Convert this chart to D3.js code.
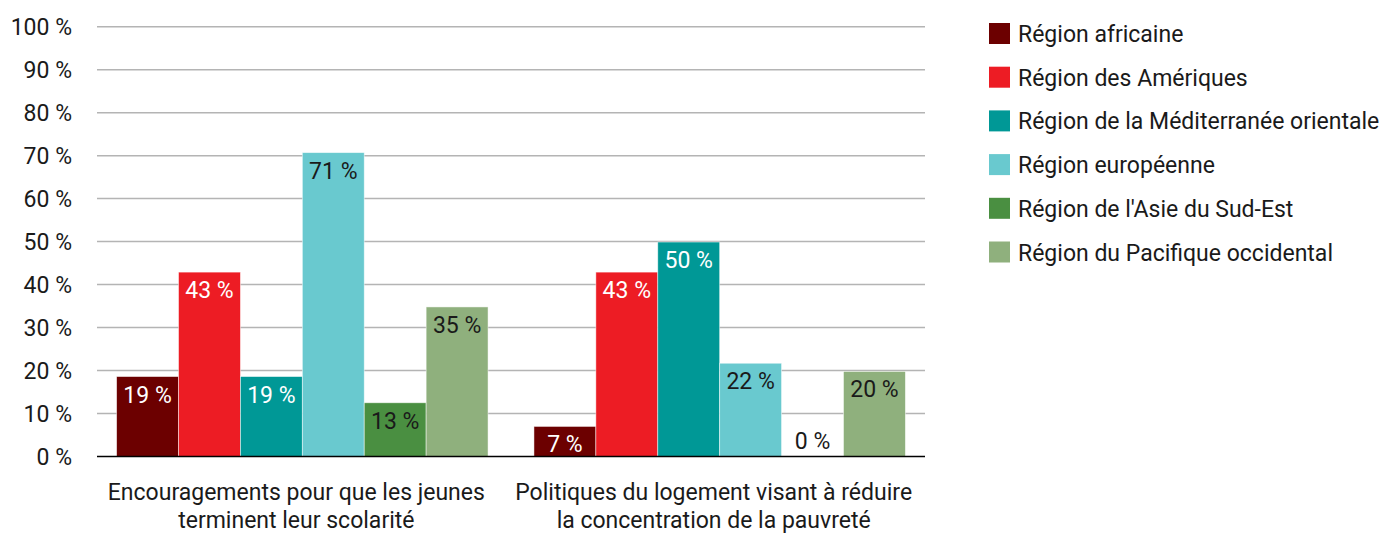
<!DOCTYPE html>
<html>
<head>
<meta charset="utf-8">
<script src="https://cdn.jsdelivr.net/npm/d3@7"></script>
<style>
  body { margin: 0; background: #fff; }
  svg text { font-family: Roboto, "Liberation Sans", sans-serif; fill: #1a1a1a; }
</style>
</head>
<body>
<svg id="chart"></svg>
<script>
// categories (x axis), one label per line
const categories = [
  ['Encouragements pour que les jeunes', 'terminent leur scolarité'],
  ['Politiques du logement visant à réduire', 'la concentration de la pauvreté']
];

const regions = [
  'Région africaine',
  'Région des Amériques',
  'Région de la Méditerranée orientale',
  'Région européenne',
  "Région de l'Asie du Sud-Est",
  'Région du Pacifique occidental'
];

// values per region, in the order of categories (percent)
const africaine = [18.6, 7.0];
const ameriques = [42.9, 42.9];
const mediterranee = [18.6, 49.9];
const europeenne = [70.7, 21.7];
const asieSudEst = [12.5, 0];
const pacifique = [34.8, 19.8];

const yTicks = [0, 10, 20, 30, 40, 50, 60, 70, 80, 90, 100];

const colors = ['#6c0000', '#ed1c24', '#009896', '#69c9cf', '#4a8f41', '#8fb07d'];
const labelColors = ['#fff', '#fff', '#fff', '#1a1a1a', '#1a1a1a', '#1a1a1a'];

const series = [africaine, ameriques, mediterranee, europeenne, asieSudEst, pacifique];

const width = 1389, height = 535;
const margin = { top: 26.7, right: 464, bottom: 78.5, left: 97 };
const fontSize = 23;

const svg = d3.select('#chart').attr('width', width).attr('height', height);

const x0 = d3.scaleBand()
  .domain(d3.range(categories.length))
  .range([margin.left, width - margin.right])
  .paddingInner(0.11)
  .paddingOuter(0.047);

const x1 = d3.scaleBand()
  .domain(d3.range(regions.length))
  .range([0, x0.bandwidth()]);

const y = d3.scaleLinear()
  .domain([0, 100])
  .range([height - margin.bottom, margin.top]);

// gridlines
svg.append('g')
  .selectAll('line')
  .data(yTicks.filter(d => d > 0))
  .join('line')
  .attr('x1', margin.left)
  .attr('x2', width - margin.right)
  .attr('y1', d => y(d))
  .attr('y2', d => y(d))
  .attr('stroke', '#b4b4b4')
  .attr('stroke-width', 1.5);

// y tick labels
svg.append('g')
  .selectAll('text')
  .data(yTicks)
  .join('text')
  .attr('x', 72)
  .attr('y', d => y(d))
  .attr('dy', '0.35em')
  .attr('text-anchor', 'end')
  .style('font-size', fontSize + 'px')
  .text(d => d + ' %');

// bars
const groups = svg.append('g')
  .selectAll('g')
  .data(categories)
  .join('g')
  .attr('transform', (d, i) => `translate(${x0(i)},0)`);

groups.selectAll('rect')
  .data((d, ci) => series.map((s, si) => ({ si, v: s[ci] })))
  .join('rect')
  .attr('x', d => x1(d.si))
  .attr('y', d => y(d.v))
  .attr('width', x1.bandwidth())
  .attr('height', d => y(0) - y(d.v))
  .attr('fill', d => colors[d.si])
  .attr('stroke', '#fff')
  .attr('stroke-opacity', 0.6)
  .attr('stroke-width', 0.8);

groups.selectAll('text')
  .data((d, ci) => series.map((s, si) => ({ si, v: s[ci] })))
  .join('text')
  .attr('x', d => x1(d.si) + x1.bandwidth() / 2)
  .attr('y', d => d.v === 0 ? y(0) - 16 : y(d.v) + 18)
  .attr('dy', '0.35em')
  .attr('text-anchor', 'middle')
  .style('font-size', fontSize + 'px')
  .style('fill', d => d.v === 0 ? '#1a1a1a' : labelColors[d.si])
  .text(d => Math.round(d.v) + ' %');

// x axis baseline
svg.append('line')
  .attr('x1', margin.left)
  .attr('x2', width - margin.right)
  .attr('y1', y(0))
  .attr('y2', y(0))
  .attr('stroke', '#000')
  .attr('stroke-width', 1.5);

// category labels
svg.append('g')
  .selectAll('text')
  .data(categories)
  .join('text')
  .attr('text-anchor', 'middle')
  .style('font-size', fontSize + 'px')
  .each(function (lines, i) {
    const cx = x0(i) + x0.bandwidth() / 2 - 6;
    d3.select(this).selectAll('tspan')
      .data(lines)
      .join('tspan')
      .attr('x', cx)
      .attr('y', (d, j) => 500 + j * 27.5)
      .text(d => d);
  });

// legend
const legend = svg.append('g')
  .selectAll('g')
  .data(regions)
  .join('g')
  .attr('transform', (d, i) => `translate(989,${23 + i * 43.7})`);

legend.append('rect')
  .attr('width', 21)
  .attr('height', 21)
  .attr('fill', (d, i) => colors[i]);

legend.append('text')
  .attr('x', 29)
  .attr('y', 11)
  .attr('dy', '0.35em')
  .style('font-size', fontSize + 'px')
  .text(d => d);
</script>
</body>
</html>
